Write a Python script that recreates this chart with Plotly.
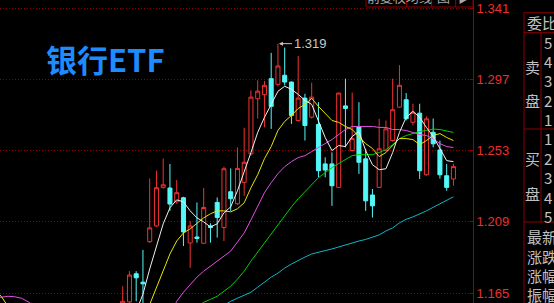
import plotly.graph_objects as go

# ---------------- data ----------------
idx = list(range(50))
opens = [1.154, 1.1596, 1.1770, 1.1718, 1.1968, 1.2065, 1.2303, 1.2299, 1.2214, 1.2239,
         1.1960, 1.1997, 1.1958, 1.2065, 1.2210, 1.2055, 1.2276, 1.2202, 1.2334, 1.2510,
         1.2850, 1.2875, 1.2974, 1.2939, 1.2995, 1.2953, 1.2716, 1.2854, 1.2736, 1.2691,
         1.2448, 1.2448, 1.2303, 1.2806, 1.2530, 1.2679, 1.2479, 1.2256, 1.2303, 1.2530,
         1.2592, 1.2798, 1.2844, 1.2705, 1.2761, 1.2381, 1.2643, 1.2534, 1.2375, 1.2355]
highs = [1.1693, 1.1786, 1.1786, 1.1917, 1.2358, 1.2406, 1.2481, 1.2448, 1.2348, 1.2245,
         1.2096, 1.2210, 1.2299, 1.2082, 1.2241, 1.2431, 1.2420, 1.2550, 1.2671, 1.2902,
         1.2964, 1.2960, 1.3133, 1.3190, 1.3166, 1.2956, 1.3113, 1.2881, 1.2949, 1.2829,
         1.2489, 1.2519, 1.2887, 1.2974, 1.2888, 1.2829, 1.2541, 1.2293, 1.2726, 1.2716,
         1.2974, 1.3057, 1.2885, 1.2819, 1.2819, 1.2741, 1.2728, 1.2592, 1.2448, 1.2448]
lows = [1.151, 1.1582, 1.1600, 1.1582, 1.1960, 1.2059, 1.2295, 1.2158, 1.2202, 1.1941,
        1.1807, 1.1962, 1.1955, 1.1962, 1.1993, 1.1972, 1.2158, 1.2195, 1.2251, 1.2499,
        1.2728, 1.2674, 1.2664, 1.2927, 1.2933, 1.2695, 1.2710, 1.2592, 1.2728, 1.2365,
        1.2365, 1.2189, 1.2300, 1.2550, 1.2525, 1.2386, 1.2158, 1.2117, 1.2300, 1.2525,
        1.2585, 1.2795, 1.2716, 1.2685, 1.2355, 1.2375, 1.2550, 1.2357, 1.2282, 1.2313]
closes = [1.160, 1.1762, 1.1745, 1.1708, 1.2053, 1.2301, 1.2319, 1.2200, 1.2270, 1.2028,
          1.2065, 1.1988, 1.2179, 1.2055, 1.2117, 1.2418, 1.2233, 1.2420, 1.2458, 1.2860,
          1.2897, 1.2933, 1.2803, 1.3052, 1.2953, 1.2747, 1.2854, 1.2685, 1.2860, 1.2406,
          1.2410, 1.2313, 1.2885, 1.2790, 1.2604, 1.2458, 1.2220, 1.2189, 1.2541, 1.2664,
          1.2782, 1.2933, 1.2727, 1.2767, 1.2406, 1.2726, 1.2572, 1.2381, 1.2303, 1.2431]

ma5_start = 2
ma5 = [1.1538, 1.1644, 1.1799, 1.1941, 1.2078, 1.2177, 1.2226, 1.2214, 1.2158, 1.2115,
       1.2090, 1.2059, 1.2078, 1.2146, 1.2183, 1.2282, 1.2394, 1.2518, 1.2642, 1.2735,
       1.2815, 1.2896, 1.2927, 1.2908, 1.2877, 1.2840, 1.2815, 1.2710, 1.2611, 1.2530,
       1.2561, 1.2555, 1.2617, 1.2648, 1.2530, 1.2443, 1.2412, 1.2418, 1.2518, 1.2642,
       1.2735, 1.2772, 1.2735, 1.2673, 1.2617, 1.2543, 1.2468, 1.2462]

ma10_left_start = -19
ma10_left = [1.1669, 1.1631, 1.1569]
ma10_start = 3
ma10 = [1.1477, 1.1582, 1.1675, 1.1780, 1.1892, 1.1972, 1.2022, 1.2047, 1.2084, 1.2115,
        1.2140, 1.2158, 1.2158, 1.2152, 1.2171, 1.2208, 1.2301, 1.2381, 1.2480, 1.2555,
        1.2654, 1.2710, 1.2747, 1.2790, 1.2815, 1.2852, 1.2803, 1.2759, 1.2716, 1.2704,
        1.2679, 1.2660, 1.2617, 1.2573, 1.2543, 1.2493, 1.2518, 1.2561, 1.2604, 1.2604,
        1.2598, 1.2567, 1.2592, 1.2623, 1.2635, 1.2611, 1.2592]

ma20_left_start = -19
ma20_left = [1.1625, 1.1625, 1.1631, 1.1628, 1.1619, 1.1597, 1.1569, 1.1526]
ma20_start = 7
ma20 = [1.1508, 1.1600, 1.1656, 1.1706, 1.1749, 1.1786, 1.1817, 1.1848, 1.1879, 1.1910,
        1.1966, 1.2022, 1.2102, 1.2189, 1.2270, 1.2332, 1.2388, 1.2431, 1.2462, 1.2487,
        1.2499, 1.2524, 1.2549, 1.2573, 1.2598, 1.2629, 1.2660, 1.2679, 1.2679, 1.2679,
        1.2679, 1.2673, 1.2673, 1.2660, 1.2660, 1.2654, 1.2642, 1.2629, 1.2623, 1.2604,
        1.2573, 1.2555, 1.2549]

ma30_start = 11
ma30 = [1.1563, 1.1594, 1.1612, 1.1631, 1.1662, 1.1693, 1.1737, 1.1786, 1.1848, 1.1904,
        1.1966, 1.2022, 1.2078, 1.2127, 1.2183, 1.2233, 1.2276, 1.2319, 1.2363, 1.2394,
        1.2425, 1.2450, 1.2474, 1.2499, 1.2505, 1.2505, 1.2505, 1.2518, 1.2536, 1.2567,
        1.2604, 1.2623, 1.2635, 1.2648, 1.2654, 1.2663, 1.2660, 1.2651, 1.2642]

ma60_start = 14
ma60 = [1.1551, 1.1576, 1.1600, 1.1619, 1.1637, 1.1656, 1.1687, 1.1718, 1.1749, 1.1774,
        1.1805, 1.1830, 1.1854, 1.1873, 1.1892, 1.1904, 1.1913, 1.1923, 1.1935, 1.1951,
        1.1960, 1.1972, 1.1982, 1.1994, 1.2010, 1.2034, 1.2053, 1.2084, 1.2106, 1.2121,
        1.2137, 1.2158, 1.2180, 1.2201, 1.2223, 1.2245]

price_ticks = [1.165, 1.209, 1.253, 1.297, 1.341]
peak_label = 1.319
peak_index = 23
title_text = "银行ETF"
buttons = ["前复权", "均线", "图", "▶"]
panel_rows = ["最新", "涨跌", "涨幅", "振幅"]

# ---------------- styling ----------------
RED = "#F03232"
CYAN = "#54F8F8"
DARKRED = "#8B0000"
GRAY = "#C0C0C0"
PW, PH = 473, 303


def px(x):
    return x / PW


def py(y):
    return 1 - y / PH


fig = go.Figure()
fig.add_trace(go.Candlestick(
    x=idx, open=opens, high=highs, low=lows, close=closes,
    increasing=dict(line=dict(color=RED, width=1), fillcolor="#000000"),
    decreasing=dict(line=dict(color=CYAN, width=1), fillcolor=CYAN),
    whiskerwidth=0, hoverinfo="skip"))


def add_line(start, vals, color):
    fig.add_trace(go.Scatter(x=list(range(start, start + len(vals))), y=vals, mode="lines",
                             line=dict(color=color, width=1), hoverinfo="skip"))


add_line(ma60_start, ma60, "#12B4C8")
add_line(ma30_start, ma30, "#00D000")
add_line(ma20_left_start, ma20_left, "#E050E0")
add_line(ma20_start, ma20, "#E050E0")
add_line(ma10_left_start, ma10_left, "#E6E600")
add_line(ma10_start, ma10, "#E6E600")
add_line(ma5_start, ma5, "#F0F0F0")

y_top = 1.341 + 8 * 0.044 / 71.3
y_bot = 1.341 - 295 * 0.044 / 71.3

fig.update_layout(
    width=554, height=303, margin=dict(l=0, r=81, t=0, b=0),
    paper_bgcolor="#000000", plot_bgcolor="#000000", showlegend=False,
    boxgap=0.15,
    xaxis=dict(range=[-18.18, 51.9], visible=False, rangeslider=dict(visible=False),
               fixedrange=True),
    yaxis=dict(side="right", range=[y_bot, y_top], tickvals=price_ticks,
               ticktext=["%.3f" % v for v in price_ticks],
               tickfont=dict(family="Liberation Sans, Arial", size=13, color="#E83030"),
               showgrid=True, gridcolor="#900000", griddash="1px,2px", gridwidth=1,
               showline=True, linecolor="#9A0000", linewidth=1,
               ticks="inside", ticklen=3, tickcolor="#9A0000",
               zeroline=False, fixedrange=True),
)

shapes = []
# top buttons
bx = [366, 406.7, 431.7, 455.7, 473]
for i in range(4):
    shapes.append(dict(type="rect", xref="paper", yref="paper",
                       x0=px(bx[i]), x1=px(bx[i + 1]), y0=py(7), y1=py(-3),
                       line=dict(color=DARKRED, width=1), fillcolor="#000000", layer="above"))
# right panel
for (x0, y0, x1, y1) in [(524, 12.7, 524, 303), (524, 12.7, 560, 12.7), (524, 32.7, 560, 32.7),
                         (541, 32.7, 541, 222), (524, 129, 560, 129), (524, 222, 560, 222)]:
    shapes.append(dict(type="line", xref="paper", yref="paper", x0=px(x0), x1=px(x1),
                       y0=py(y0), y1=py(y1), line=dict(color=DARKRED, width=1)))
fig.update_layout(shapes=shapes)

ann = []
ann.append(dict(xref="paper", yref="paper", x=px(105), y=py(58.5), text="<b>%s</b>" % title_text,
                showarrow=False, font=dict(family="Noto Sans CJK SC", size=31, color="#1E8CFF"),
                xanchor="center", yanchor="middle"))
ann.append(dict(xref="x", yref="y", x=peak_index, y=peak_label, text="%.3f" % peak_label,
                showarrow=True, ax=14, ay=0, xanchor="left", arrowhead=2, arrowsize=0.8,
                arrowwidth=1, arrowcolor="#C8C8C8", standoff=1,
                font=dict(family="Liberation Sans, Arial", size=13, color="#C8C8C8")))
for i, t in enumerate(buttons):
    ann.append(dict(xref="paper", yref="paper", x=px((bx[i] + bx[i + 1]) / 2), y=py(-3.5),
                    text=t, showarrow=False, xanchor="center", yanchor="middle",
                    font=dict(family="Noto Sans CJK SC", size=13, color="#A8A8A8")))


def ptxt(x, y, t, anchor="left", size=15):
    ann.append(dict(xref="paper", yref="paper", x=px(x), y=py(y), text=t, showarrow=False,
                    xanchor=anchor, yanchor="middle",
                    font=dict(family="Noto Sans CJK SC", size=size, color=GRAY)))


ptxt(525, 22.7, "委比")
ptxt(532.5, 66.7, "卖", "center")
ptxt(532.5, 100, "盘", "center")
ptxt(532.5, 158, "买", "center")
ptxt(532.5, 193, "盘", "center")
for n, yy in zip(["5", "4", "3", "2", "1"], [42.7, 61.7, 80.7, 100, 119.3]):
    ptxt(547.5, yy, n, "center", 15)
for n, yy in zip(["1", "2", "3", "4", "5"], [138.3, 158, 177.5, 197, 216.5]):
    ptxt(547.5, yy, n, "center", 15)
for t, yy in zip(panel_rows, [236, 256, 275, 294]):
    ptxt(525, yy, t)
fig.update_layout(annotations=ann)

fig.write_html("out.html", config={"displayModeBar": False})
